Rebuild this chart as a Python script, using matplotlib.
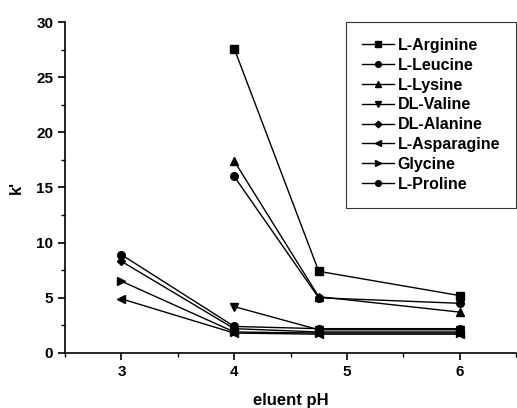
import numpy as np
import matplotlib.pyplot as plt
from matplotlib.ticker import MultipleLocator

plt.rcParams['font.family'] = ['Liberation Sans', 'DejaVu Sans']
plt.rcParams['font.weight'] = 'bold'

# eluent pH values
ph = [3, 4, 4.75, 6]

# k' values for each amino acid (nan = not measured)
arginine = [np.nan, 27.6, 7.4, 5.2]
leucine = [np.nan, 16.0, 5.0, 4.5]
lysine = [np.nan, 17.4, 5.1, 3.7]
valine = [np.nan, 4.2, 2.1, 2.1]
alanine = [8.3, 2.2, 1.9, 1.9]
asparagine = [4.9, 1.8, 1.7, 1.7]
glycine = [6.5, 1.9, 1.8, 1.8]
proline = [8.9, 2.4, 2.2, 2.2]

names = ['L-Arginine', 'L-Leucine', 'L-Lysine', 'DL-Valine',
         'DL-Alanine', 'L-Asparagine', 'Glycine', 'L-Proline']
series = [arginine, leucine, lysine, valine, alanine, asparagine, glycine, proline]
markers = ['s', 'o', '^', 'v', 'D', '<', '>', 'o']

fig = plt.figure(figsize=(5.17, 4.08), dpi=100)
ax = fig.add_axes([0.126, 0.135, 0.872, 0.811])

for name, vals, m in zip(names, series, markers):
    ms = 4.5 if m == 'D' else 5.5
    ax.plot(ph, vals, color='black', linewidth=1, marker=m, markersize=ms,
            label=name)

ax.set_xlim(2.5, 6.5)
ax.set_ylim(0, 30)
ax.xaxis.set_major_locator(MultipleLocator(1))
ax.xaxis.set_minor_locator(MultipleLocator(0.5))
ax.yaxis.set_major_locator(MultipleLocator(5))
ax.yaxis.set_minor_locator(MultipleLocator(2.5))

ax.spines['top'].set_visible(False)
ax.spines['right'].set_visible(False)
for s in ['left', 'bottom']:
    ax.spines[s].set_linewidth(1.2)

ax.tick_params(which='major', direction='out', length=5, width=1.2, labelsize=11)
ax.tick_params(which='minor', direction='out', length=3, width=1)
for lbl in ax.get_xticklabels() + ax.get_yticklabels():
    lbl.set_fontweight('bold')

ax.set_xlabel('eluent pH', fontsize=12, fontweight='bold', labelpad=10)
ax.set_ylabel("k'", fontsize=12, fontweight='bold', labelpad=9)

leg = ax.legend(loc='upper right', bbox_to_anchor=(1.0, 1.0), borderaxespad=0,
                handlelength=2.0, handletextpad=0.2, labelspacing=0.3,
                borderpad=1.0, markerscale=0.75, fancybox=False,
                edgecolor='black', prop={'weight': 'bold', 'size': 11.5})
leg.get_frame().set_linewidth(0.8)

fig.savefig('out.png', dpi=100)
